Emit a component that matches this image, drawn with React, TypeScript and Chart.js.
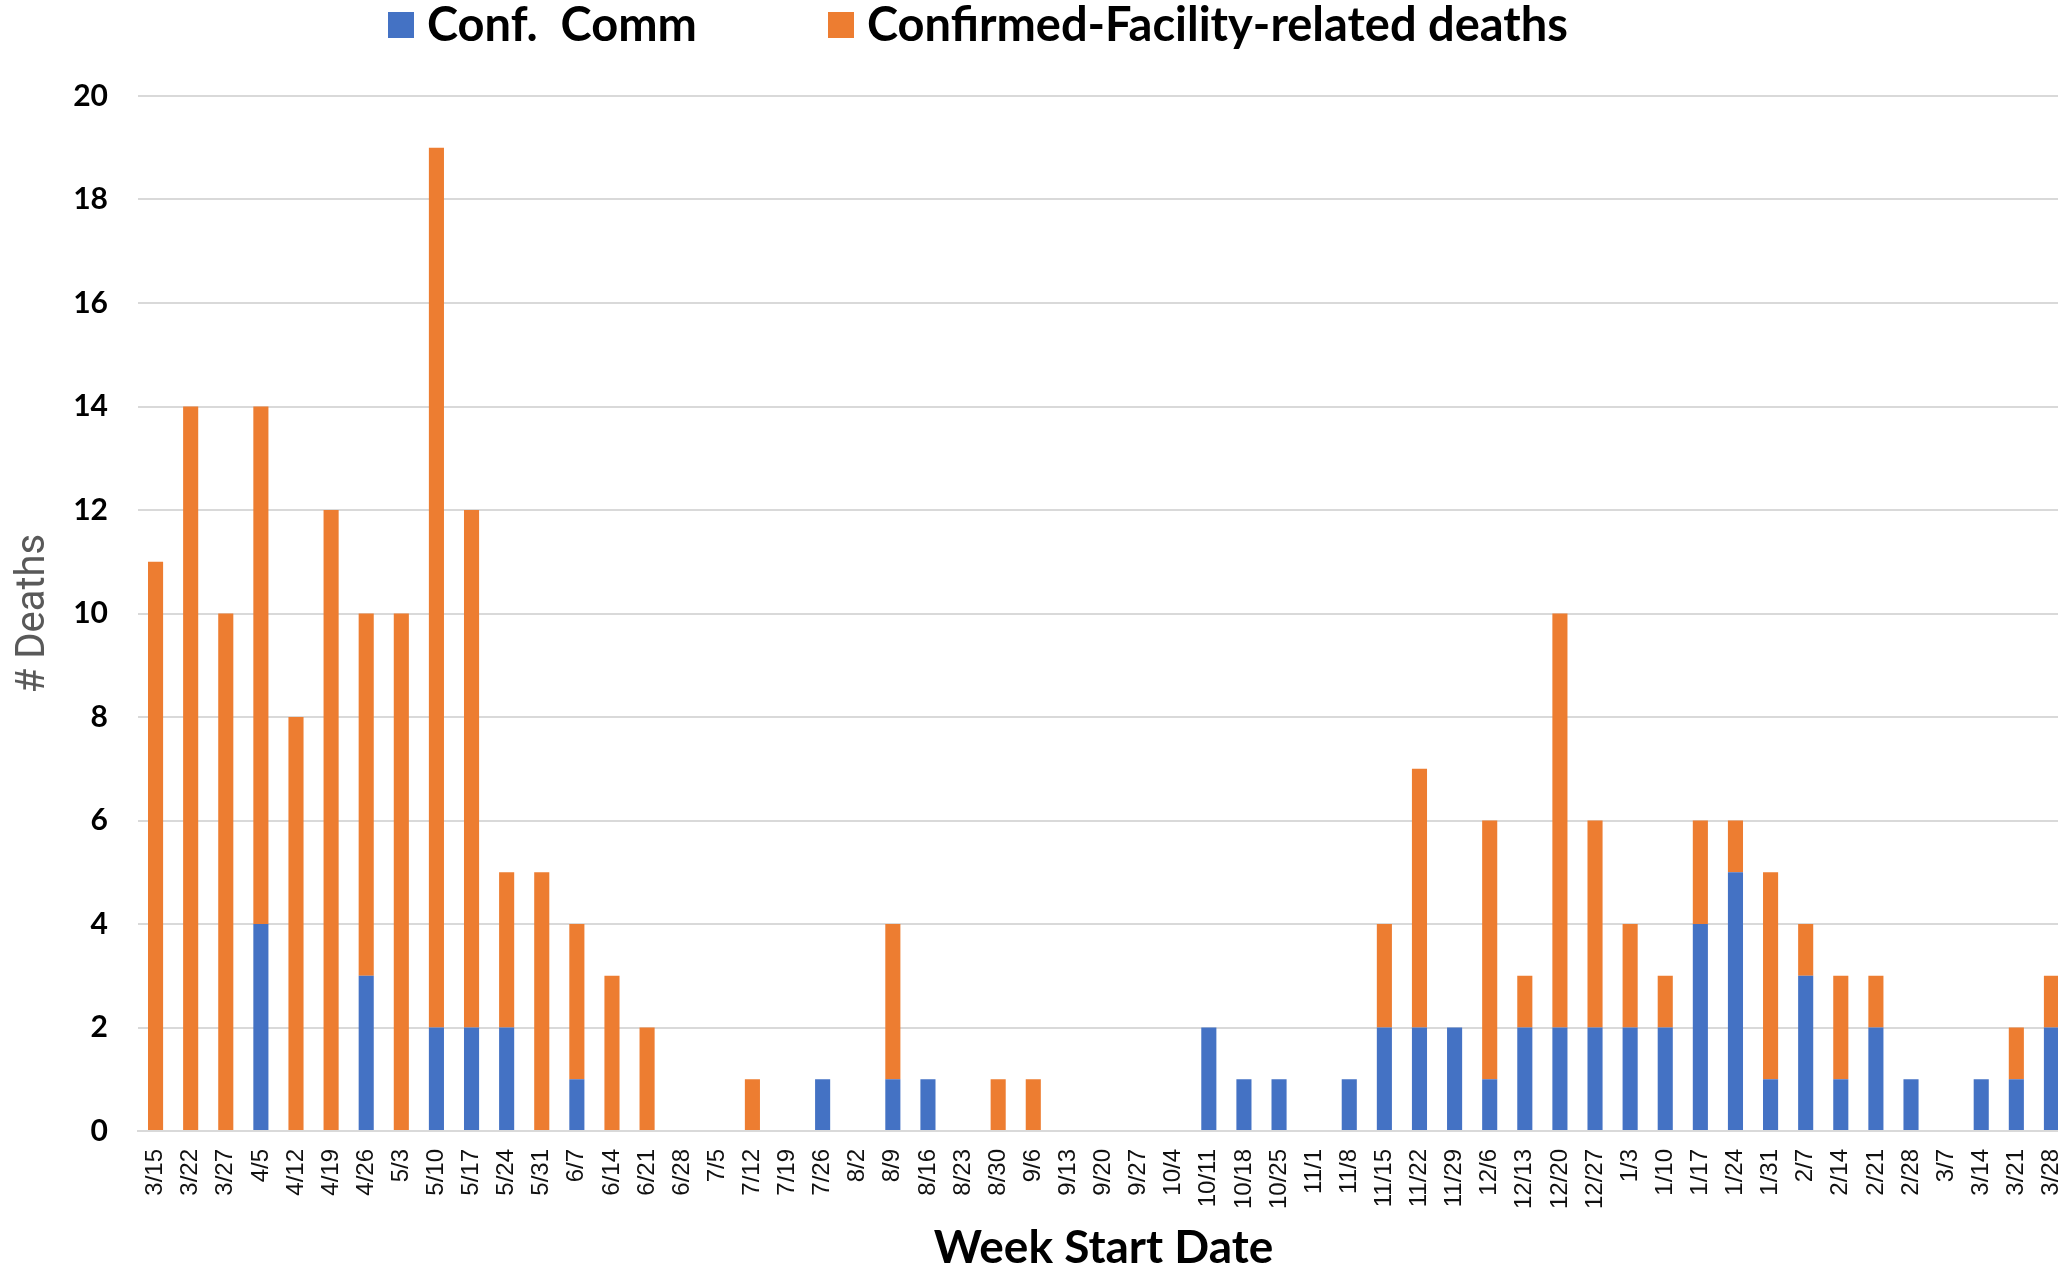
import React, { useEffect, useRef } from "react";
import { Chart, registerables } from "chart.js";

Chart.register(...registerables);

const weekLabels = [
  "3/15", "3/22", "3/27", "4/5", "4/12", "4/19", "4/26", "5/3", "5/10", "5/17",
  "5/24", "5/31", "6/7", "6/14", "6/21", "6/28", "7/5", "7/12", "7/19", "7/26",
  "8/2", "8/9", "8/16", "8/23", "8/30", "9/6", "9/13", "9/20", "9/27", "10/4",
  "10/11", "10/18", "10/25", "11/1", "11/8", "11/15", "11/22", "11/29", "12/6", "12/13",
  "12/20", "12/27", "1/3", "1/10", "1/17", "1/24", "1/31", "2/7", "2/14", "2/21",
  "2/28", "3/7", "3/14", "3/21", "3/28",
];

const confComm = [
  0, 0, 0, 4, 0, 0, 3, 0, 2, 2,
  2, 0, 1, 0, 0, 0, 0, 0, 0, 1,
  0, 1, 1, 0, 0, 0, 0, 0, 0, 0,
  2, 1, 1, 0, 1, 2, 2, 2, 1, 2,
  2, 2, 2, 2, 4, 5, 1, 3, 1, 2,
  1, 0, 1, 1, 2,
];

const facilityDeaths = [
  11, 14, 10, 10, 8, 12, 7, 10, 17, 10,
  3, 5, 3, 3, 2, 0, 0, 1, 0, 0,
  0, 3, 0, 0, 1, 1, 0, 0, 0, 0,
  0, 0, 0, 0, 0, 2, 5, 0, 5, 1,
  8, 4, 2, 1, 2, 1, 4, 1, 2, 1,
  0, 0, 0, 1, 1,
];

const seriesNames = ["Conf.  Comm", "Confirmed-Facility-related deaths"];
const seriesColors = ["#4472C4", "#ED7D31"];
const yMin = 0;
const yMax = 20;
const yStep = 2;

const CANVAS_W = 2130;
const CANVAS_H = 1271;
const PLOT_RIGHT = 2069;

const topLegend = {
  id: "topLegend",
  afterDraw(chart: any, _args: any, opts: any) {
    const ctx = chart.ctx;
    ctx.save();
    ctx.font = opts.font;
    ctx.textBaseline = "middle";
    ctx.textAlign = "left";
    chart.data.datasets.forEach((ds: any, i: number) => {
      const x = opts.itemX[i];
      ctx.fillStyle = ds.backgroundColor;
      ctx.fillRect(x, opts.y - opts.box / 2, opts.box, opts.box);
      ctx.fillStyle = "#000000";
      ctx.fillText(ds.label, x + opts.box + opts.gap, opts.y + 1);
    });
    ctx.restore();
  },
};

export default function App() {
  const canvasRef = useRef<HTMLCanvasElement | null>(null);

  useEffect(() => {
    const canvas = canvasRef.current;
    if (!canvas) return;
    const chart = new Chart(canvas, {
      type: "bar",
      data: {
        labels: weekLabels,
        datasets: [
          {
            label: seriesNames[0],
            data: confComm,
            backgroundColor: seriesColors[0],
            borderWidth: 0,
            barPercentage: 0.43,
            categoryPercentage: 1,
          },
          {
            label: seriesNames[1],
            data: facilityDeaths,
            backgroundColor: seriesColors[1],
            borderWidth: 0,
            barPercentage: 0.43,
            categoryPercentage: 1,
          },
        ],
      },
      plugins: [topLegend],
      options: {
        responsive: false,
        animation: false,
        devicePixelRatio: 1,
        layout: { padding: { top: 96, right: CANVAS_W - PLOT_RIGHT, left: 0, bottom: 0 } },
        plugins: {
          legend: { display: false },
          tooltip: { enabled: false },
          topLegend: {
            font: "bold 47px Lato",
            itemX: [388, 828],
            y: 25,
            box: 26,
            gap: 13,
          },
        } as any,
        scales: {
          x: {
            stacked: true,
            grid: { display: false, drawTicks: false },
            border: { display: true, color: "#d9d9d9", width: 2 },
            ticks: {
              autoSkip: false,
              maxRotation: 90,
              minRotation: 90,
              padding: 18,
              color: "#111111",
              font: { family: "Liberation Sans", size: 24 },
            },
            title: {
              display: true,
              text: "Week Start Date",
              color: "#000000",
              font: { family: "Lato", size: 46, weight: "bold", lineHeight: 1 },
              padding: { top: 0, bottom: 0 },
            },
            afterFit: (scale: any) => {
              scale.height = 140;
            },
          },
          y: {
            stacked: true,
            min: yMin,
            max: yMax,
            grid: { color: "#d9d9d9", lineWidth: 2, drawTicks: false },
            border: { display: false },
            ticks: {
              stepSize: yStep,
              padding: 30,
              color: "#000000",
              font: { family: "Lato", size: 30, weight: "bold" },
            },
            title: {
              display: true,
              text: "# Deaths",
              color: "#595959",
              font: { family: "Roboto", size: 40, weight: "normal", lineHeight: 1.2 },
              padding: { top: 10, bottom: 0 },
            },
            afterFit: (scale: any) => {
              scale.width = 138;
            },
          },
        },
      },
    });
    return () => chart.destroy();
  }, []);

  return (
    <div
      style={{
        position: "fixed",
        left: 0,
        top: 0,
        width: "100vw",
        height: "100vh",
        overflow: "hidden",
        background: "#ffffff",
      }}
    >
      <canvas
        ref={canvasRef}
        width={CANVAS_W}
        height={CANVAS_H}
        style={{ width: CANVAS_W, height: CANVAS_H, display: "block" }}
      />
    </div>
  );
}
